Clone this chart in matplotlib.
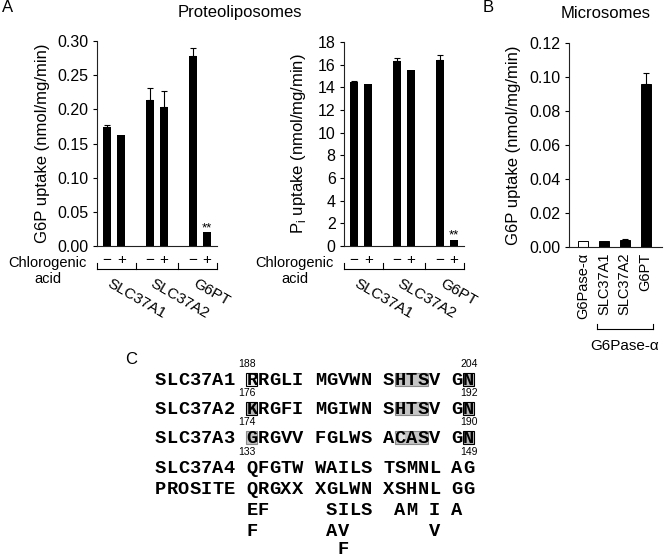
import matplotlib.pyplot as plt
import numpy as np
from matplotlib.patches import Rectangle, Ellipse

plt.rcParams['font.family'] = ['Liberation Sans', 'DejaVu Sans']
plt.rcParams['mathtext.fontset'] = 'custom'
plt.rcParams['mathtext.rm'] = 'Liberation Sans'

# A: proteoliposomes, - / + chlorogenic acid
groups = ["SLC37A1", "SLC37A2", "G6PT"]
g6p_ctrl = [0.174, 0.213, 0.278]
g6p_ctrl_err = [0.003, 0.018, 0.012]
g6p_cga = [0.162, 0.203, 0.020]
g6p_cga_err = [0.0, 0.024, 0.0]
pi_ctrl = [14.45, 16.3, 16.45]
pi_ctrl_err = [0.15, 0.25, 0.4]
pi_cga = [14.3, 15.55, 0.55]
pi_cga_err = [0.0, 0.0, 0.0]
signif = ["", "", "**"]

# B: microsomes
micro_labels = ["G6Pase-\u03b1", "SLC37A1", "SLC37A2", "G6PT"]
micro_vals = [0.0035, 0.0035, 0.0042, 0.096]
micro_err = [0.0, 0.0, 0.0004, 0.0065]
micro_fill = ["white", "black", "black", "black"]

# C: sequence alignment
seq_rows = [
    "SLC37A1 RRGLI MGVWN SHTSV GN",
    "SLC37A2 KRGFI MGIWN SHTSV GN",
    "SLC37A3 GRGVV FGLWS ACASV GN",
    "SLC37A4 QFGTW WAILS TSMNL AG",
    "PROSITE QRGXX XGLWN XSHNL GG",
    "        EF     SILS  AM I A",
    "        F      AV       V",
    "                F",
]
start_nums = ["188", "176", "174", "133"]
end_nums = ["204", "192", "190", "149"]
# (row, first column, n columns, style)
highlights = [
    (0, 8, 1, "outline"), (0, 21, 3, "gray"), (0, 27, 1, "dark"),
    (1, 8, 1, "dark"), (1, 21, 3, "gray"), (1, 27, 1, "dark"),
    (2, 8, 1, "gray"), (2, 21, 3, "gray"), (2, 27, 1, "dark"),
]
box_styles = {
    "outline": dict(facecolor="#eeeeee", edgecolor="black", lw=0.8),
    "gray": dict(facecolor="#c4c4c4", edgecolor="#8a8a8a", lw=0.8),
    "dark": dict(facecolor="#b4b4b4", edgecolor="black", lw=0.8),
}

W, H = 665, 558
fig = plt.figure(figsize=(W / 100, H / 100), dpi=100)


def px_axes(left, top, right, bottom):
    return fig.add_axes([left / W, 1 - bottom / H, (right - left) / W, (bottom - top) / H])


def style_axes(ax):
    for s in ["top", "right"]:
        ax.spines[s].set_visible(False)
    for s in ["left", "bottom"]:
        ax.spines[s].set_linewidth(0.8)
        ax.spines[s].set_color("#222222")
    ax.tick_params(axis="y", direction="out", length=3, width=0.8, pad=3, labelsize=11.5)


def panel_a(ax, ctrl, ctrl_err, cga, cga_err, ymax, ystep, fmt, ylabel, label_x):
    x = np.arange(len(groups))
    off, w = 0.165, 0.19
    ax.bar(x - off, ctrl, w, color="black")
    ax.bar(x + off, cga, w, color="black")
    for xs, vals, errs in [(x - off, ctrl, ctrl_err), (x + off, cga, cga_err)]:
        for xi, v, e in zip(xs, vals, errs):
            if e > 0:
                ax.errorbar(xi, v, yerr=[[0], [e]], fmt="none", ecolor="black",
                            elinewidth=0.8, capsize=2.5, capthick=0.8)
    for xi, v, s in zip(x + off, cga, signif):
        if s:
            ax.annotate(s, (xi, v), xytext=(0, 3), textcoords="offset points",
                        ha="center", va="center", fontsize=9.5)
    ax.set_xlim(-0.4, 2.4)
    ax.set_ylim(0, ymax)
    ax.set_yticks(np.arange(0, ymax + ystep / 2, ystep))
    ax.yaxis.set_major_formatter(plt.FormatStrFormatter(fmt))
    ax.set_xticks([])
    style_axes(ax)
    ax.set_ylabel(ylabel, fontsize=12)
    ax.yaxis.label.set_va("center")
    ax.yaxis.set_label_coords(label_x, 0.5)

    tr = ax.get_xaxis_transform()
    for xi in x:
        ax.text(xi - off, -0.07, "\u2212", transform=tr, ha="center", va="center", fontsize=11)
        ax.text(xi + off, -0.07, "+", transform=tr, ha="center", va="center", fontsize=11)
    ax.plot([-0.4, 2.4], [-0.114, -0.114], color="black", lw=0.8, transform=tr, clip_on=False)
    for xb in [-0.4, 0.5, 1.5, 2.4]:
        ax.plot([xb, xb], [-0.114, -0.084], color="black", lw=0.8, transform=tr, clip_on=False)
    for xi, g in zip(x, groups):
        ax.text(xi - 0.06, -0.148, g, transform=tr, rotation=-30, ha="left", va="top",
                rotation_mode="anchor", fontsize=11)
    ax.text(-0.41, -0.085, "Chlorogenic", transform=ax.transAxes, ha="center", va="center", fontsize=10.5)
    ax.text(-0.41, -0.16, "acid", transform=ax.transAxes, ha="center", va="center", fontsize=10.5)


ax1 = px_axes(97, 41, 217, 246)
panel_a(ax1, g6p_ctrl, g6p_ctrl_err, g6p_cga, g6p_cga_err, 0.30, 0.05, "%.2f",
        "G6P uptake (nmol/mg/min)", -0.45)
ax2 = px_axes(344, 42, 464, 246)
panel_a(ax2, pi_ctrl, pi_ctrl_err, pi_cga, pi_cga_err, 18, 2, "%d",
        r"P$_\mathregular{i}$ uptake (nmol/mg/min)", -0.383)

# B
ax3 = px_axes(569, 43, 662, 247)
xb = np.arange(len(micro_labels))
ax3.bar(xb, micro_vals, 0.48, color=micro_fill, edgecolor="black", linewidth=0.7)
for xi, v, e in zip(xb, micro_vals, micro_err):
    if e > 0:
        ax3.errorbar(xi, v, yerr=[[0], [e]], fmt="none", ecolor="black",
                     elinewidth=0.8, capsize=2.5, capthick=0.8)
ax3.set_xlim(-0.67, 3.78)
ax3.set_ylim(0, 0.12)
ax3.set_yticks(np.arange(0, 0.121, 0.02))
ax3.yaxis.set_major_formatter(plt.FormatStrFormatter("%.2f"))
style_axes(ax3)
ax3.set_xticks(xb)
ax3.set_xticklabels(micro_labels, rotation=90, fontsize=10.5)
ax3.tick_params(axis="x", length=0, pad=4)
ax3.set_ylabel("G6P uptake (nmol/mg/min)", fontsize=12)
ax3.yaxis.label.set_va("center")
ax3.yaxis.set_label_coords(-0.60, 0.5)
tr3 = ax3.get_xaxis_transform()
ax3.plot([0.67, 3.35], [-0.402, -0.402], color="black", lw=0.8, transform=tr3, clip_on=False)
for xe in [0.67, 3.35]:
    ax3.plot([xe, xe], [-0.402, -0.375], color="black", lw=0.8, transform=tr3, clip_on=False)
ax3.text(2.0, -0.485, "G6Pase-\u03b1", transform=tr3, ha="center", va="center", fontsize=11)

# titles and panel letters
fig.text(8 / W, 1 - 7 / H, "A", ha="center", va="center", fontsize=12)
fig.text(240 / W, 1 - 12 / H, "Proteoliposomes", ha="center", va="center", fontsize=12)
fig.text(488 / W, 1 - 7 / H, "B", ha="center", va="center", fontsize=12)
fig.text(606 / W, 1 - 13 / H, "Microsomes", ha="center", va="center", fontsize=12)

# C
col_w = 11.4
axc = px_axes(155, 340, 155 + 30 * col_w, 558)
axc.set_xlim(0, 30)
axc.set_ylim(558, 340)
axc.axis("off")
row_y = [379, 408, 437, 467, 488, 509, 530, 548]
axc.text(-2.1, 359, "C", ha="center", va="center", fontsize=12)
for r, c, n, st in highlights:
    axc.add_patch(Rectangle((c + 0.02, row_y[r] - 6.5), n - 0.04, 13, zorder=1, **box_styles[st]))
axc.add_patch(Ellipse((21.5, row_y[2]), 0.9, 11, facecolor="#e2e2e2", edgecolor="none", zorder=1.5))
for r, row in enumerate(seq_rows):
    for i, ch in enumerate(row):
        if ch != " ":
            axc.text(i + 0.5, row_y[r] + 6, ch, ha="center", va="baseline", zorder=3,
                     family="Liberation Mono", weight="bold", fontsize=13.5)
for r, (s, e) in enumerate(zip(start_nums, end_nums)):
    axc.text(7.3, row_y[r] - 15, s, ha="left", va="center", fontsize=7.5)
    axc.text(28.3, row_y[r] - 15, e, ha="right", va="center", fontsize=7.5)

fig.savefig("out.png", dpi=100)
